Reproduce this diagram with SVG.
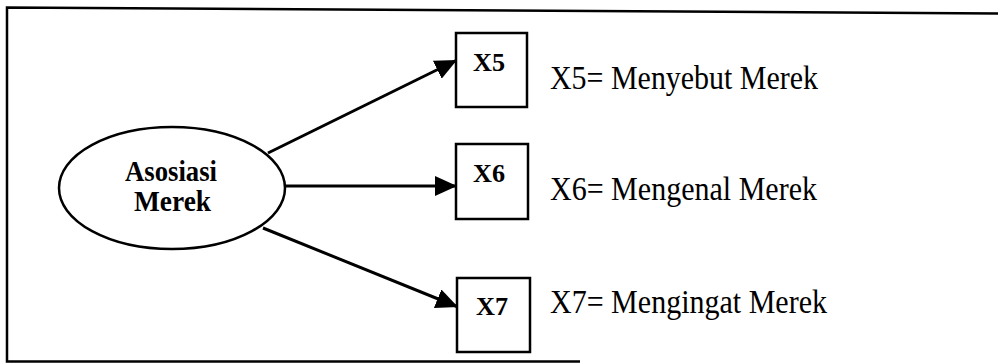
<svg xmlns="http://www.w3.org/2000/svg" width="998" height="364" viewBox="0 0 998 364">
<style>
.frame{fill:none;stroke:#000;stroke-width:2.5}
.box{fill:#fff;stroke:#000;stroke-width:2.5}
.edge{stroke:#000;stroke-width:3;fill:none}
.bold{font-family:"Liberation Serif","Times New Roman",serif;font-weight:bold;fill:#000}
.reg{font-family:"Liberation Serif","Times New Roman",serif;font-size:33px;fill:#000}
</style>
<defs>
<marker id="arr" viewBox="0 0 22 20" refX="22" refY="10" markerWidth="22" markerHeight="20" markerUnits="userSpaceOnUse" orient="auto">
<path d="M0,0 L22,10 L0,20 z" fill="#000"/>
</marker>
</defs>
<rect width="998" height="364" fill="#fff"/>
<path class="frame" d="M998,13.5 L7,7.5 L7,361.5 L580,361.5"/>
<g id="connectors">
<line class="edge" x1="268" y1="153" x2="457" y2="60" marker-end="url(#arr)"/>
<line class="edge" x1="285" y1="186" x2="457" y2="186" marker-end="url(#arr)"/>
<line class="edge" x1="263" y1="228" x2="458" y2="307" marker-end="url(#arr)"/>
</g>
<g id="asosiasi">
<ellipse class="box" cx="172" cy="188" rx="113" ry="61"/>
<text class="bold" x="125" y="181" font-size="29" textLength="92" lengthAdjust="spacingAndGlyphs">Asosiasi</text>
<text class="bold" x="134" y="211" font-size="29" textLength="77" lengthAdjust="spacingAndGlyphs">Merek</text>
</g>
<g id="x5">
<rect class="box" x="456" y="33" width="71" height="74"/>
<text class="bold" x="473" y="71" font-size="26" textLength="32" lengthAdjust="spacingAndGlyphs">X5</text>
</g>
<g id="x6">
<rect class="box" x="456" y="144" width="72" height="75"/>
<text class="bold" x="473" y="182" font-size="26" textLength="32" lengthAdjust="spacingAndGlyphs">X6</text>
</g>
<g id="x7">
<rect class="box" x="457" y="278" width="73" height="74"/>
<text class="bold" x="476" y="315" font-size="26" textLength="32" lengthAdjust="spacingAndGlyphs">X7</text>
</g>
<g id="labels">
<text class="reg" x="550" y="89" textLength="268" lengthAdjust="spacingAndGlyphs">X5= Menyebut Merek</text>
<text class="reg" x="550" y="200" textLength="267" lengthAdjust="spacingAndGlyphs">X6= Mengenal Merek</text>
<text class="reg" x="550" y="313" textLength="277" lengthAdjust="spacingAndGlyphs">X7= Mengingat Merek</text>
</g>
</svg>
